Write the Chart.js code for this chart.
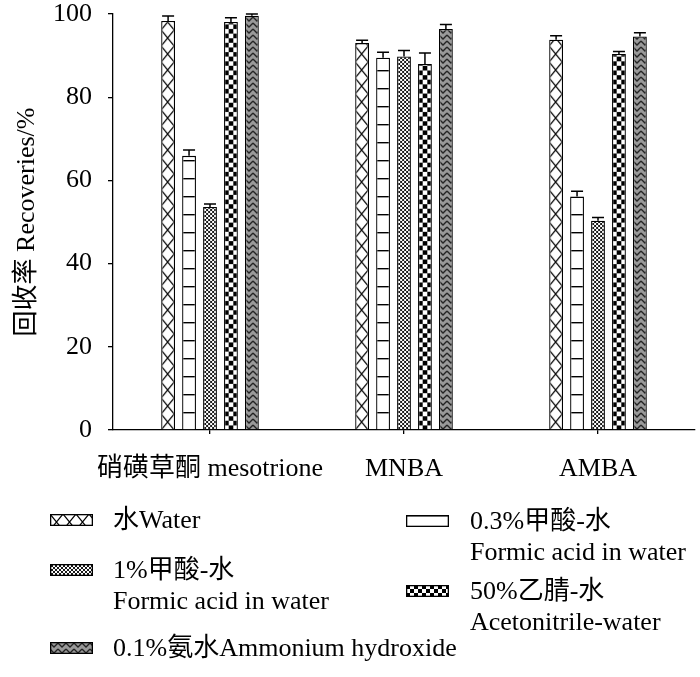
<!DOCTYPE html>
<html>
<head>
<meta charset="utf-8">
<script src="https://cdn.jsdelivr.net/npm/chart.js@4/dist/chart.umd.min.js"></script>
<style>
  body { margin: 0; background: #fff; }
  #wrap { position: relative; width: 700px; height: 677px; }
  .lg-text { position: absolute; font-family: 'Liberation Serif', 'Noto Sans CJK SC', serif; font-size: 26px; line-height: 31px; color: #000; white-space: nowrap; }
  .lg-sw { position: absolute; width: 43px; height: 12px; }
</style>
</head>
<body>
<div id="wrap">
  <canvas id="recoveries"></canvas>
</div>
<script>
var categories = ['硝磺草酮 mesotrione', 'MNBA', 'AMBA'];
var seriesNames = [
  ['水Water'],
  ['0.3%甲酸-水', 'Formic acid in water'],
  ['1%甲酸-水', 'Formic acid in water'],
  ['50%乙腈-水', 'Acetonitrile-water'],
  ['0.1%氨水Ammonium hydroxide']
];
var waterVals = [98.3, 93.0, 93.8];
var waterErr = [1.2, 0.7, 1.0];
var formic03Vals = [65.9, 89.5, 56.1];
var formic03Err = [1.4, 1.3, 1.3];
var formic1Vals = [53.6, 89.8, 50.3];
var formic1Err = [0.7, 1.4, 0.8];
var acnVals = [98.1, 88.0, 90.4];
var acnErr = [1.0, 2.6, 0.6];
var ammoniaVals = [99.6, 96.4, 94.6];
var ammoniaErr = [0.4, 1.1, 0.9];
var yTicks = [0, 20, 40, 60, 80, 100];

var FONT = "'Liberation Serif', 'Noto Sans CJK SC', serif";
var CAT_PCT = 0.54, BAR_PCT = 0.66;

// pattern tiles, roughly like the Excel fills
function tile(kind) {
  var c = document.createElement('canvas');
  var g = c.getContext('2d');
  if (kind == 'cross') {
    c.width = 13; c.height = 16;
    g.fillStyle = '#fff'; g.fillRect(0, 0, 13, 16);
    g.strokeStyle = '#000'; g.lineWidth = 1.2;
    g.beginPath(); g.moveTo(0, 0); g.lineTo(13, 16); g.moveTo(13, 0); g.lineTo(0, 16); g.stroke();
  } else if (kind == 'hline') {
    c.width = 4; c.height = 18;
    g.fillStyle = '#fff'; g.fillRect(0, 0, 4, 18);
    g.fillStyle = '#000'; g.fillRect(0, 0, 4, 1.4);
  } else if (kind == 'dots') {
    c.width = 4; c.height = 4;
    g.fillStyle = '#fff'; g.fillRect(0, 0, 4, 4);
    g.strokeStyle = '#000'; g.lineWidth = 0.9;
    g.beginPath(); g.moveTo(0, 0); g.lineTo(4, 4); g.moveTo(4, 0); g.lineTo(0, 4); g.stroke();
  } else if (kind == 'checker') {
    c.width = 8; c.height = 8;
    g.fillStyle = '#fff'; g.fillRect(0, 0, 8, 8);
    g.fillStyle = '#000'; g.fillRect(0, 0, 4, 4); g.fillRect(4, 4, 4, 4);
  } else {
    c.width = 8; c.height = 6;
    g.fillStyle = '#999'; g.fillRect(0, 0, 8, 6);
    g.strokeStyle = '#222'; g.lineWidth = 1.3;
    g.beginPath(); g.moveTo(0, 1); g.lineTo(4, 5); g.lineTo(8, 1); g.stroke();
  }
  return c;
}

var kinds = ['cross', 'hline', 'dots', 'checker', 'zigzag'];

function barFill(ctx, kind) {
  var chart = ctx.chart, xs = chart.scales.x, area = chart.chartArea;
  if (!xs || !area || ctx.dataIndex == null) return '#fff';
  var catW = xs.width / categories.length;
  var thick = catW * CAT_PCT, size = thick / kinds.length;
  var left = xs.getPixelForValue(ctx.dataIndex) - thick / 2 + size * ctx.datasetIndex + size * (1 - BAR_PCT) / 2;
  var p = chart.ctx.createPattern(tile(kind), 'repeat');
  var m = new DOMMatrix().translate(left, area.bottom);
  if (kind == 'checker') m = m.scale(size * BAR_PCT / 12);
  p.setTransform(m);
  return p;
}

var errorBars = {
  id: 'errorBars',
  afterDatasetsDraw: function (chart) {
    var c = chart.ctx, y = chart.scales.y;
    c.save();
    c.strokeStyle = '#000'; c.lineWidth = 1.5;
    chart.data.datasets.forEach(function (ds, i) {
      chart.getDatasetMeta(i).data.forEach(function (bar, j) {
        var yt = y.getPixelForValue(ds.data[j] + ds.errors[j]);
        c.beginPath();
        c.moveTo(bar.x, bar.y); c.lineTo(bar.x, yt);
        c.moveTo(bar.x - 6, yt); c.lineTo(bar.x + 6, yt);
        c.stroke();
      });
    });
    c.restore();
  }
};

function mkSet(i, vals, errs) {
  return {
    label: seriesNames[i].join(' '),
    data: vals,
    errors: errs,
    backgroundColor: function (ctx) { return barFill(ctx, kinds[i]); },
    borderColor: '#000',
    borderWidth: 1.3,
    categoryPercentage: CAT_PCT,
    barPercentage: BAR_PCT
  };
}

var wrap = document.getElementById('wrap');

// legend below the chart, two columns like the original
var legendPos = [[50, 113, 520], [406, 470, 521], [50, 113, 570], [406, 470, 591], [50, 113, 648]];
seriesNames.forEach(function (lines, i) {
  var pos = legendPos[i];
  var sw = document.createElement('canvas');
  sw.className = 'lg-sw'; sw.width = 43; sw.height = 12;
  sw.style.left = pos[0] + 'px'; sw.style.top = (pos[2] - 6) + 'px';
  var g = sw.getContext('2d');
  g.fillStyle = g.createPattern(tile(kinds[i]), 'repeat');
  g.fillRect(0, 0, 43, 12);
  g.strokeStyle = '#000'; g.lineWidth = 1.3; g.strokeRect(0.65, 0.65, 41.7, 10.7);
  wrap.appendChild(sw);
  var t = document.createElement('div');
  t.className = 'lg-text';
  t.style.left = pos[1] + 'px'; t.style.top = (pos[2] - 16) + 'px';
  t.innerHTML = lines.join('<br>');
  wrap.appendChild(t);
});

var ctx = document.getElementById('recoveries').getContext('2d');

var chart = new Chart(ctx, {
  type: 'bar',
  data: {
    labels: categories,
    datasets: [
      mkSet(0, waterVals, waterErr),
      mkSet(1, formic03Vals, formic03Err),
      mkSet(2, formic1Vals, formic1Err),
      mkSet(3, acnVals, acnErr),
      mkSet(4, ammoniaVals, ammoniaErr)
    ]
  },
  options: {
    responsive: true,
    maintainAspectRatio: false,
    animation: false,
    layout: { padding: { top: 14, right: 5, left: 0, bottom: 177 } },
    plugins: { legend: { display: false }, tooltip: { enabled: false } },
    scales: {
      x: {
        afterFit: function (s) { s.height = 70; },
        grid: { offset: false, drawOnChartArea: false, tickLength: 4, color: '#000', lineWidth: 1.3 },
        border: { color: '#000', width: 1.3 },
        ticks: { color: '#000', padding: 20, maxRotation: 0, autoSkip: false, font: { family: FONT, size: 26 } }
      },
      y: {
        min: 0, max: 100,
        afterFit: function (s) { s.width = 113; s.paddingTop = 0; s.paddingBottom = 0; },
        afterBuildTicks: function (s) { s.ticks = yTicks.map(function (v) { return { value: v }; }); },
        grid: { drawOnChartArea: false, tickLength: 5, color: '#000', lineWidth: 1.3 },
        border: { color: '#000', width: 1.3 },
        ticks: { color: '#000', padding: 16, font: { family: FONT, size: 26, lineHeight: 1 } },
        title: { display: true, text: '回收率 Recoveries/%', color: '#000', padding: { top: 12, bottom: 0 }, font: { family: FONT, size: 26 } }
      }
    }
  },
  plugins: [errorBars]
});
</script>
</body>
</html>
